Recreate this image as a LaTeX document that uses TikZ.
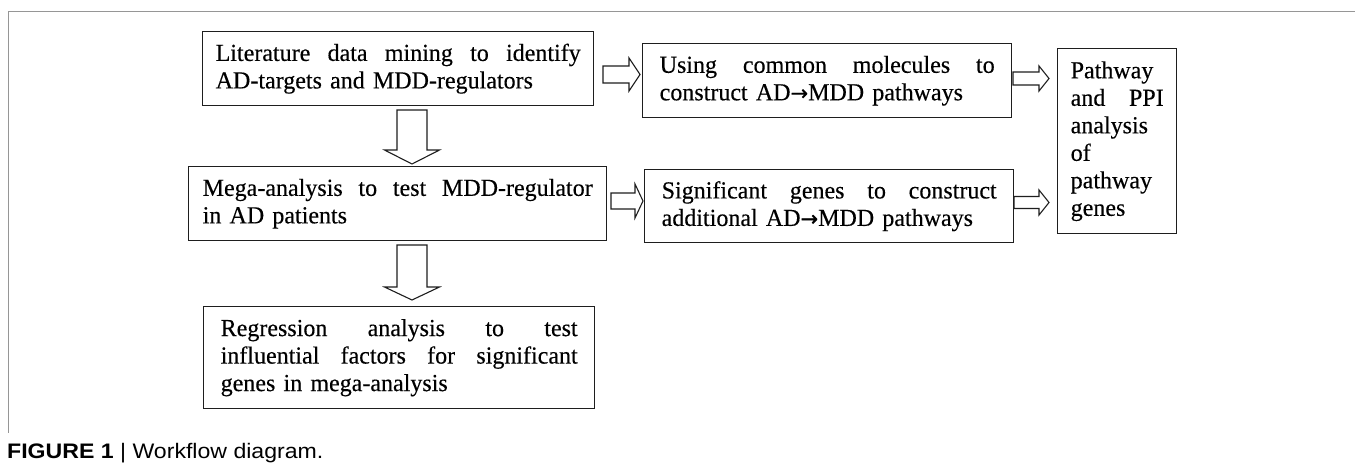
\documentclass[tikz,border=0pt]{standalone}
\usepackage{fontspec}
\setmainfont{Liberation Serif}
\newfontfamily\boxfont[FakeBold=0.3,FakeStretch=0.98]{Liberation Serif}
\newfontfamily\capfont[FakeStretch=1.1]{Liberation Sans}
\newfontfamily\arrfont[FakeBold=0.6]{DejaVu Sans}
\newcommand{\arr}{{\arrfont\fontsize{21}{21}\selectfont →}}
\newcommand{\jl}[2]{\leavevmode\hbox to #1{#2}}
\definecolor{framegray}{RGB}{150,150,150}
\definecolor{ink}{RGB}{30,30,30}
\tikzset{
  box/.style={draw=ink, line width=1.4pt, fill=white, anchor=north west,
    inner xsep=0pt, inner ysep=0pt, align=left,
    font=\boxfont\fontsize{24.5}{27.5}\selectfont},
  blockarrow/.style={draw=ink, line width=1.1pt, fill=white, line join=miter},
}
\newcommand{\rarrow}[6]{% x1, x2, headstart, yc, shafthalf, headhalf
  \draw[blockarrow] (#1,#4-#5) -- (#3,#4-#5) -- (#3,#4-#6) -- (#2,#4)
    -- (#3,#4+#6) -- (#3,#4+#5) -- (#1,#4+#5) -- cycle;}
\newcommand{\darrow}[6]{% y1, y2, headstart, xc, shafthalf, headhalf
  \draw[blockarrow] (#4-#5,#1) -- (#4-#5,#3) -- (#4-#6,#3) -- (#4,#2)
    -- (#4+#6,#3) -- (#4+#5,#3) -- (#4+#5,#1) -- cycle;}
\begin{document}
\begin{tikzpicture}[x=1pt,y=-1pt]
\useasboundingbox (0,0) rectangle (1355,471);
\fill[white] (0,0) rectangle (1355,471);
% frame
\draw[framegray, line width=1pt] (1355,11) -- (8,11) -- (8,433);

% boxes
\node[box, minimum width=391pt, minimum height=74pt, text width=365pt] (lit) at (202,31)
  {\jl{365pt}{Literature\hfill data\hfill mining\hfill to\hfill identify}\\AD-targets and MDD-regulators};
\node[box, minimum width=369pt, minimum height=74pt, text width=335pt] (use) at (642,43)
  {\jl{335pt}{Using\hfill common\hfill molecules\hfill to}\\construct AD\arr MDD pathways};
\node[box, minimum width=119pt, minimum height=185pt, text width=93pt] (path) at (1057,48)
  {Pathway\\\jl{93pt}{and\hfill PPI}\\analysis\\of\\pathway\\genes};
\node[box, minimum width=418pt, minimum height=74pt, text width=390pt] (mega) at (188,166)
  {\jl{390pt}{Mega-analysis\hfill to\hfill test\hfill MDD-regulator}\\in AD patients};
\node[box, minimum width=369pt, minimum height=73pt, text width=335pt] (sig) at (644,169)
  {\jl{335pt}{Significant\hfill genes\hfill to\hfill construct}\\additional AD\arr MDD pathways};
\node[box, minimum width=391pt, minimum height=102pt, text width=357pt] (reg) at (203,306)
  {\jl{357pt}{Regression\hfill analysis\hfill to\hfill test}\\\jl{357pt}{influential\hfill factors\hfill for\hfill significant}\\genes in mega-analysis};

% block arrows
\rarrow{603}{640}{629}{74.5}{8.5}{16.5}
\rarrow{1013}{1049}{1039}{78.5}{6.5}{12.5}
\rarrow{611}{643}{635}{201}{8}{17}
\rarrow{1014}{1049}{1039}{202.5}{6}{12.5}
\darrow{110}{164}{150}{412}{15}{27.5}
\darrow{245}{300}{287}{412}{15}{27.5}

% caption
\node[anchor=base west, inner sep=0pt, font=\capfont\fontsize{21}{25}\selectfont] (cap) at (7,458)
  {\textbf{FIGURE 1} | Workflow diagram.};
\end{tikzpicture}
\end{document}
